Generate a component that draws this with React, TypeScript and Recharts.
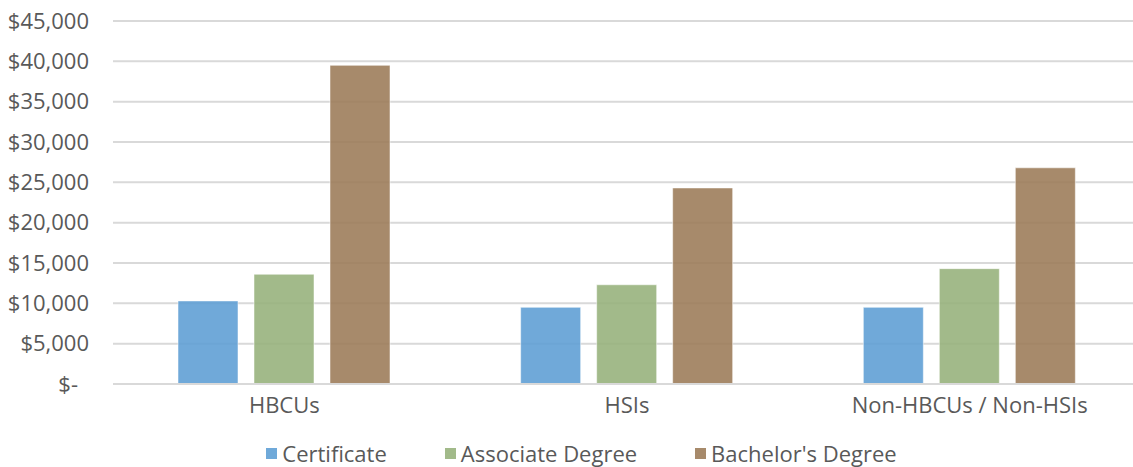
import { BarChart, Bar, XAxis, YAxis, CartesianGrid, Legend } from 'recharts';

const institutions = ['HBCUs', 'HSIs', 'Non-HBCUs / Non-HSIs'];
const certificate = [10300, 9500, 9500];
const associateDegree = [13600, 12300, 14300];
const bachelorsDegree = [39500, 24300, 26800];
const yTicks = [0, 5000, 10000, 15000, 20000, 25000, 30000, 35000, 40000, 45000];

const series = [
  { key: 'certificate', name: 'Certificate', fill: '#5c9dd4', swatch: '#6fa9d9' },
  { key: 'associate', name: 'Associate Degree', fill: '#95b17a', swatch: '#a2ba8a' },
  { key: 'bachelors', name: "Bachelor's Degree", fill: '#9b7a57', swatch: '#a78a6b' },
];

const chartData = institutions.map((name, i) => ({
  name,
  certificate: certificate[i],
  associate: associateDegree[i],
  bachelors: bachelorsDegree[i],
}));

const FONT = '"Open Sans", sans-serif';
const TEXT = '#595959';

function YTick(props: any) {
  const { x, y, payload } = props;
  const v = payload.value as number;
  const label = v === 0 ? '$-' : '$' + v.toLocaleString('en-US');
  return (
    <text
      x={v === 0 ? x - 11 : x}
      y={y}
      dy="0.35em"
      textAnchor="end"
      fill={TEXT}
      fontSize={22}
      fontFamily={FONT}
    >
      {label}
    </text>
  );
}

function LegendContent() {
  return (
    <div
      style={{
        height: 43,
        display: 'flex',
        justifyContent: 'center',
        alignItems: 'flex-start',
        fontFamily: FONT,
        fontSize: 22,
        color: TEXT,
        paddingLeft: 22,
        paddingTop: 17,
        boxSizing: 'border-box',
      }}
    >
      {series.map((s, i) => (
        <div
          key={s.key}
          style={{ display: 'flex', alignItems: 'center', marginLeft: i === 0 ? 0 : 58, lineHeight: '24px', height: 24 }}
        >
          <span style={{ display: 'inline-block', width: 11, height: 11, background: s.swatch, marginRight: 5 }} />
          <span>{s.name}</span>
        </div>
      ))}
    </div>
  );
}

export default function App() {
  return (
    <div style={{ position: 'absolute', left: 0, top: 0, width: 1133, height: 467, overflow: 'hidden', background: '#fff' }}>
      <BarChart
        width={1141}
        height={467}
        data={chartData}
        margin={{ top: 21, right: 0, bottom: 0, left: 0 }}
        barGap={16}
        barSize={60}
      >
        <CartesianGrid vertical={false} stroke="#d9d9d9" strokeWidth={2} />
        <XAxis
          dataKey="name"
          height={40}
          tickLine={false}
          tickSize={0}
          tickMargin={13}
          axisLine={{ stroke: '#d9d9d9', strokeWidth: 2 }}
          tick={{ fill: TEXT, fontSize: 22, fontFamily: FONT }}
        />
        <YAxis
          width={113}
          domain={[0, 45000]}
          ticks={yTicks}
          axisLine={false}
          tickLine={false}
          tickSize={0}
          tickMargin={24}
          tick={<YTick />}
          interval={0}
        />
        <Legend verticalAlign="bottom" content={<LegendContent />} />
        {series.map((s) => (
          <Bar
            key={s.key}
            dataKey={s.key}
            name={s.name}
            fill={s.fill}
            fillOpacity={0.88}
            stroke="#ffffff"
            strokeOpacity={0.5}
            strokeWidth={1}
            isAnimationActive={false}
          />
        ))}
      </BarChart>
    </div>
  );
}
